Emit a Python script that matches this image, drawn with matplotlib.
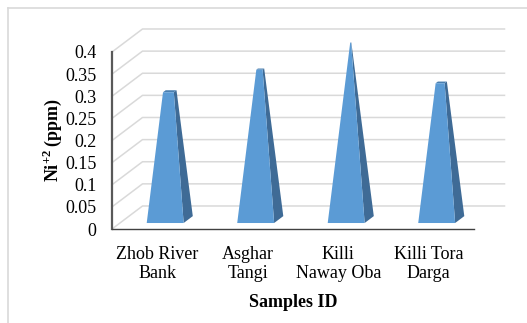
import numpy as np
import matplotlib
matplotlib.use('Agg')
import matplotlib.pyplot as plt
from matplotlib.patches import Polygon
from matplotlib.lines import Line2D

# data
samples = ['Zhob River\nBank', 'Asghar\nTangi', 'Killi\nNaway Oba', 'Killi Tora\nDarga']
ni_ppm = [0.29, 0.34, 0.40, 0.31]
yticks = [0, 0.05, 0.1, 0.15, 0.2, 0.25, 0.3, 0.35, 0.4]
ytick_labels = ['0', '0.05', '0.1', '0.15', '0.2', '0.25', '0.3', '0.35', '0.4']

plt.rcParams['font.family'] = ['Liberation Serif', 'DejaVu Serif']
plt.rcParams['mathtext.fontset'] = 'custom'
plt.rcParams['mathtext.rm'] = 'Liberation Serif'
plt.rcParams['mathtext.bf'] = 'Liberation Serif:bold'

# oblique 3D look: depth shifts points right and up (data units)
DX = 0.337
DY = 0.052
apex = 0.41          # partial pyramids taper towards this height
hw = 0.204           # half width of base (category units)
dc, hd = 0.41, 0.15  # centre depth and half depth of base

front_col = '#5b9bd5'
side_col = '#3f6b96'
top_col = '#4a7fb0'
grid_col = '#d9d9d9'
fs = 13

def P(x, v, d):
	return (x + d*DX, v + d*DY)

fig = plt.figure(figsize=(5.27, 3.23), dpi=100)
ax = fig.add_axes([112/527, 1 - 229/323, 362/527, 177/323])
ax.set_xlim(-0.5, 3.5)
ax.set_ylim(0, 0.4)
for s in ax.spines.values():
	s.set_visible(False)
ax.patch.set_visible(False)

# side wall diagonals + back wall gridlines
x0, x1 = -0.5, 3.5
for v in yticks:
	a = P(x0, v, 0)
	b = P(x0, v, 1)
	c = P(x1, v, 1)
	ax.plot([a[0], b[0], c[0]], [a[1], b[1], c[1]], color=grid_col, lw=1.1,
			clip_on=False, zorder=1)

# front axes lines
ax.plot([x0, x0], [0, 0.4], color='#595959', lw=1.6, clip_on=False, zorder=2)
ax.plot([x0, x1], [0, 0], color='#404040', lw=1.0, clip_on=False, zorder=2)

# pyramids
for i, v in enumerate(ni_ppm):
	s = 1 - v/apex
	front = [P(i-hw, 0, dc-hd), P(i+hw, 0, dc-hd), P(i+hw*s, v, dc-hd*s), P(i-hw*s, v, dc-hd*s)]
	side = [P(i+hw, 0, dc-hd), P(i+hw, 0, dc+hd), P(i+hw*s, v, dc+hd*s), P(i+hw*s, v, dc-hd*s)]
	top = [P(i-hw*s, v, dc-hd*s), P(i+hw*s, v, dc-hd*s), P(i+hw*s, v, dc+hd*s), P(i-hw*s, v, dc+hd*s)]
	ax.add_patch(Polygon(side, closed=True, facecolor=side_col, edgecolor='none', zorder=3, clip_on=False))
	ax.add_patch(Polygon(top, closed=True, facecolor=top_col, edgecolor='none', zorder=3, clip_on=False))
	ax.add_patch(Polygon(front, closed=True, facecolor=front_col, edgecolor='none', zorder=4, clip_on=False))

ax.set_yticks(yticks)
ax.set_yticklabels(ytick_labels, fontsize=fs)
ax.set_xticks(range(len(samples)))
ax.set_xticklabels(samples, fontsize=fs, linespacing=1.15)
ax.tick_params(axis='y', length=0, pad=11)
ax.tick_params(axis='x', length=0, pad=12)

ax.set_ylabel('Ni$^{\\mathbf{+2}}\\,$(ppm)', fontsize=fs, fontweight='bold', labelpad=1)
ax.set_xlabel('Samples ID', fontsize=fs, fontweight='bold', labelpad=9)

# chart area border (only top and left show)
fig.add_artist(Line2D([8/527, 8/527], [0, 1 - 8/323], color=grid_col, lw=1.2))
fig.add_artist(Line2D([8/527, 1], [1 - 8/323, 1 - 8/323], color=grid_col, lw=1.2))

fig.savefig('out.png', dpi=100)
